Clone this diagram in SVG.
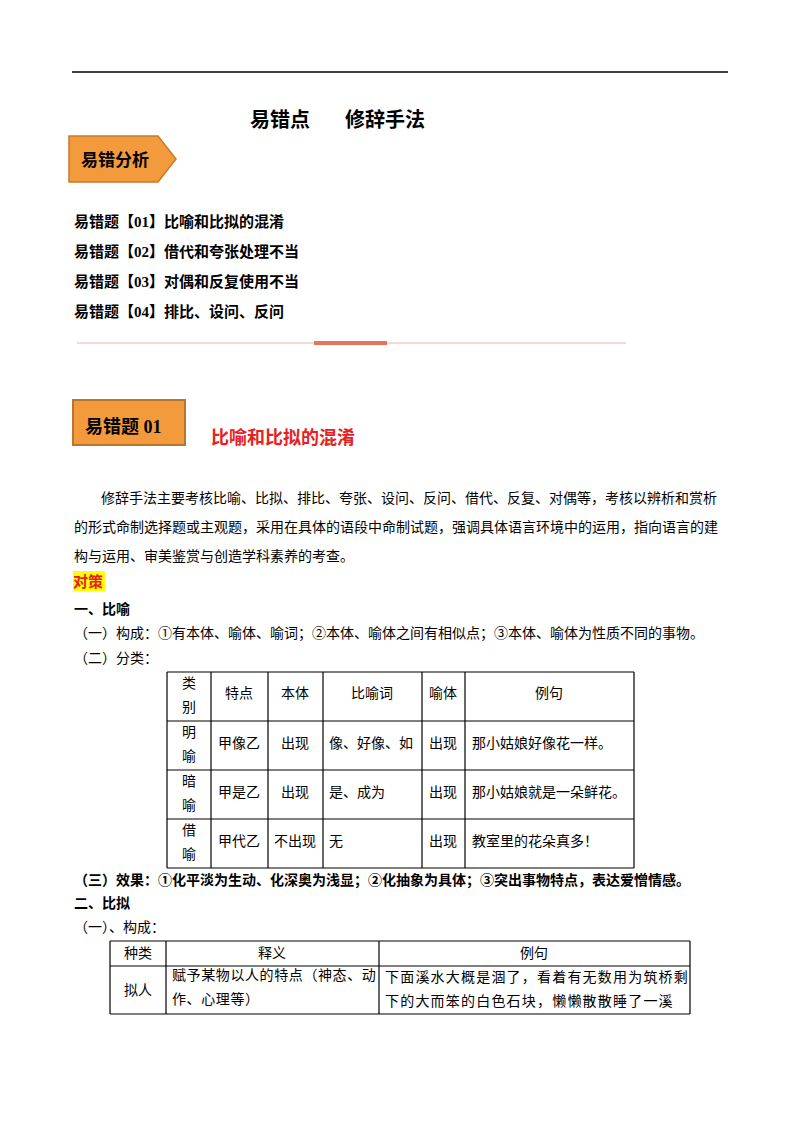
<svg xmlns="http://www.w3.org/2000/svg" width="800" height="1132" viewBox="0 0 800 1132">
<style>
text{font-family:"Liberation Serif","Noto Sans CJK SC",serif;fill:#000}
.b{font-weight:bold}
.t{font-size:14px}
.c{text-anchor:middle}
.g line{stroke:#000;stroke-width:1.2}
</style>
<rect width="800" height="1132" fill="#fff"/>
<line x1="72" y1="72" x2="728" y2="72" stroke="#000" stroke-width="1.5"/>
<text x="250" y="127" class="b" font-size="20">易错点</text>
<text x="345" y="127" class="b" font-size="20">修辞手法</text>
<g id="tag1"><path d="M69,136 H158 L176,159 L158,182 H69 Z" fill="#f39a3c" stroke="#c87a2a" stroke-width="1.5"/>
<text x="81" y="166" class="b" font-size="17">易错分析</text></g>
<g id="list" class="b" font-size="15">
<text x="74" y="227">易错题【01】比喻和比拟的混淆</text>
<text x="74" y="257">易错题【02】借代和夸张处理不当</text>
<text x="74" y="287">易错题【03】对偶和反复使用不当</text>
<text x="74" y="317">易错题【04】排比、设问、反问</text></g>
<line x1="77" y1="343" x2="626" y2="343" stroke="#e8b5b0" stroke-width="1"/>
<rect x="314" y="341" width="73" height="4" fill="#e8735a"/>
<g id="tag2"><rect x="73" y="400" width="112" height="45" fill="#f39a3c" stroke="#b7772e" stroke-width="2"/>
<text x="85" y="433" class="b" font-size="18">易错题 01</text></g>
<text x="211" y="444" class="b" font-size="18" style="fill:#e8201f">比喻和比拟的混淆</text>
<g class="t">
<text x="101" y="503">修辞手法主要考核比喻、比拟、排比、夸张、设问、反问、借代、反复、对偶等，考核以辨析和赏析</text>
<text x="74" y="532">的形式命制选择题或主观题，采用在具体的语段中命制试题，强调具体语言环境中的运用，指向语言的建</text>
<text x="74" y="561">构与运用、审美鉴赏与创造学科素养的考查。</text>
</g>
<rect x="73" y="571" width="32" height="20" fill="#ffff00"/>
<text x="73" y="587" class="b" font-size="15" style="fill:#e8201f">对策</text>
<text x="74" y="614" class="b t">一、比喻</text>
<text x="74" y="638" class="t">（一）构成：①有本体、喻体、喻词；②本体、喻体之间有相似点；③本体、喻体为性质不同的事物。</text>
<text x="74" y="663" class="t">（二）分类：</text>
<g id="table1" class="t">
<g class="g"><line x1="167" y1="672" x2="634" y2="672"/><line x1="167" y1="721" x2="634" y2="721"/><line x1="167" y1="770" x2="634" y2="770"/><line x1="167" y1="819" x2="634" y2="819"/><line x1="167" y1="868" x2="634" y2="868"/>
<line x1="167" y1="672" x2="167" y2="868"/><line x1="211" y1="672" x2="211" y2="868"/><line x1="268" y1="672" x2="268" y2="868"/><line x1="323" y1="672" x2="323" y2="868"/><line x1="422" y1="672" x2="422" y2="868"/><line x1="465" y1="672" x2="465" y2="868"/><line x1="634" y1="672" x2="634" y2="868"/></g>
<text x="189" y="688" class="c">类</text><text x="189" y="712" class="c">别</text>
<text x="239" y="698" class="c">特点</text><text x="295" y="698" class="c">本体</text><text x="372" y="698" class="c">比喻词</text><text x="443" y="698" class="c">喻体</text><text x="549" y="698" class="c">例句</text>
<text x="189" y="737" class="c">明</text><text x="189" y="761" class="c">喻</text>
<text x="239" y="748" class="c">甲像乙</text><text x="295" y="748" class="c">出现</text><text x="329" y="748">像、好像、如</text><text x="443" y="748" class="c">出现</text><text x="472" y="748">那小姑娘好像花一样。</text>
<text x="189" y="786" class="c">暗</text><text x="189" y="810" class="c">喻</text>
<text x="239" y="797" class="c">甲是乙</text><text x="295" y="797" class="c">出现</text><text x="329" y="797">是、成为</text><text x="443" y="797" class="c">出现</text><text x="472" y="797">那小姑娘就是一朵鲜花。</text>
<text x="189" y="835" class="c">借</text><text x="189" y="859" class="c">喻</text>
<text x="239" y="846" class="c">甲代乙</text><text x="295" y="846" class="c">不出现</text><text x="329" y="846">无</text><text x="443" y="846" class="c">出现</text><text x="472" y="846">教室里的花朵真多！</text>
</g>
<text x="74" y="885" class="b t">（三）效果：①化平淡为生动、化深奥为浅显；②化抽象为具体；③突出事物特点，表达爱憎情感。</text>
<text x="74" y="908" class="b t">二、比拟</text>
<text x="74" y="932" class="t">（一）、构成：</text>
<g id="table2" class="t">
<g class="g"><line x1="110" y1="941" x2="690" y2="941"/><line x1="110" y1="966" x2="690" y2="966"/><line x1="110" y1="1014" x2="690" y2="1014"/>
<line x1="110" y1="941" x2="110" y2="1014"/><line x1="166" y1="941" x2="166" y2="1014"/><line x1="379" y1="941" x2="379" y2="1014"/><line x1="690" y1="941" x2="690" y2="1014"/></g>
<text x="138" y="958" class="c">种类</text><text x="272" y="958" class="c">释义</text><text x="534" y="958" class="c">例句</text>
<text x="138" y="995" class="c">拟人</text>
<text x="172" y="980" letter-spacing="0.6">赋予某物以人的特点（神态、动</text><text x="172" y="1004" letter-spacing="0.6">作、心理等）</text>
<text x="385" y="982" letter-spacing="1.2">下面溪水大概是涸了，看着有无数用为筑桥剩</text><text x="385" y="1006" letter-spacing="1.2">下的大而笨的白色石块，懒懒散散睡了一溪</text>
</g>
</svg>
